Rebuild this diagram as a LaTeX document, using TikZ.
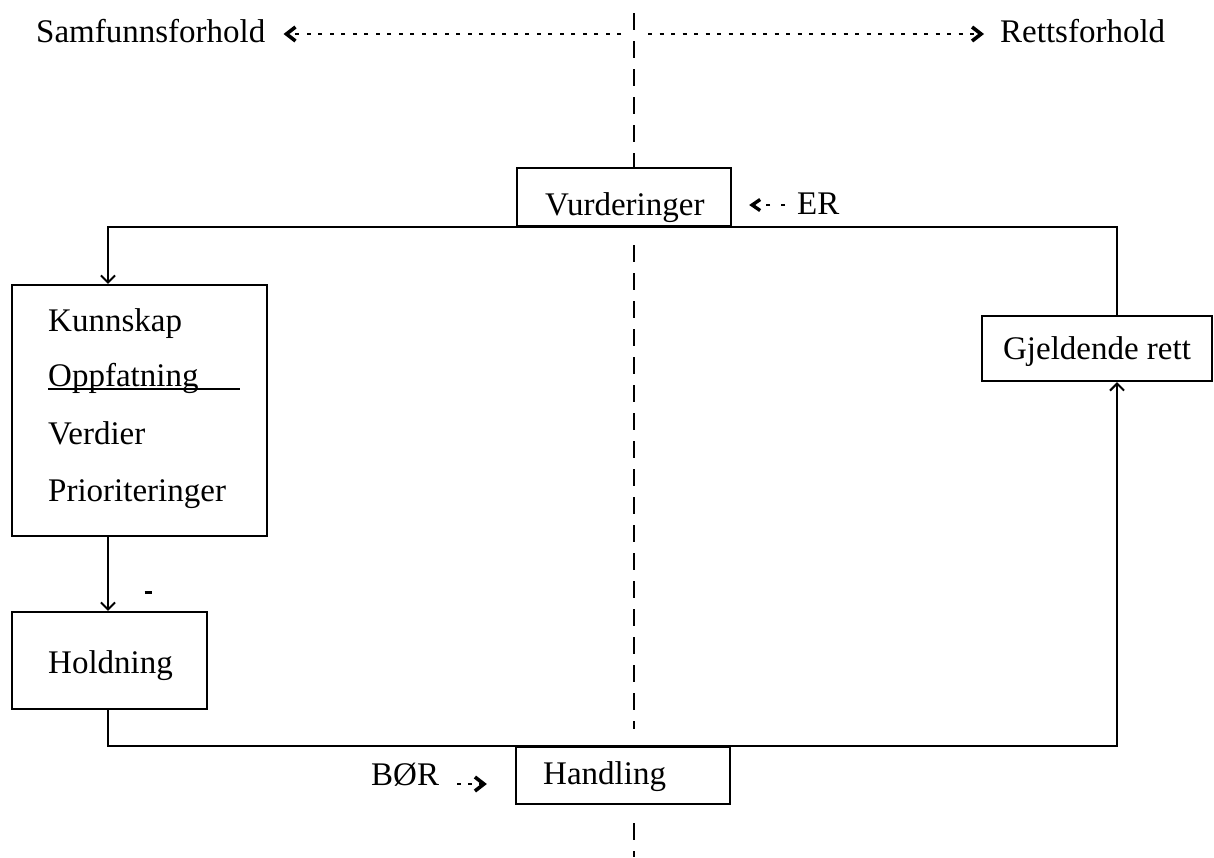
\documentclass[tikz,border=0pt]{standalone}
\usepackage{fontspec}
\setmainfont{Liberation Serif}
\usetikzlibrary{arrows.meta}

\begin{document}
\begin{tikzpicture}[x=1pt,y=-1pt,
  font=\fontsize{33}{40}\selectfont,
  box/.style={draw, line width=2.3pt, inner sep=0pt},
  lbl/.style={inner sep=0pt, anchor=base west},
  conn/.style={line width=2.3pt, -{Straight Barb[length=7pt,width=14pt,line width=2pt]}},
  chev/.style={-{Straight Barb[length=9pt,width=14pt,line width=3.6pt]}},
  dotline/.style={line width=2.6pt, dash pattern=on 4pt off 7.5pt, chev},
  midline/.style={line width=2.6pt, dash pattern=on 17pt off 11pt}]

\useasboundingbox (0,0) rectangle (1214,857);

% boxes
\node[box, minimum width=214pt, minimum height=58pt] (vb) at (624,197) {};
\node[box, minimum width=255pt, minimum height=251pt] (kb) at (139.5,410.5) {};
\node[box, minimum width=195pt, minimum height=97pt] (hb) at (109.5,660.5) {};
\node[box, minimum width=214pt, minimum height=57pt] (hd) at (623,775.5) {};
\node[box, minimum width=230pt, minimum height=65pt] (gb) at (1097,348.5) {};

% box texts
\node[lbl] (vt) at (545,215) {Vurderinger};
\node[lbl] (k1) at (48,331) {Kunnskap};
\node[lbl] (k2) at (48,386) {Oppfatning};
\node[lbl] (k3) at (48,444) {Verdier};
\node[lbl] (k4) at (48,501) {Prioriteringer};
\node[lbl] (ht) at (48,673) {Holdning};
\node[lbl] (hdt) at (543,784) {Handling};
\node[inner sep=0pt, anchor=base] (gt) at (1097,359) {Gjeldende rett};

% underline of the second entry
\coordinate (ulend) at (240,389);
\draw[line width=1.8pt] (k2.west |- ulend) -- (ulend);

% side labels
\node[lbl] (sam) at (36,42) {Samfunnsforhold};
\node[lbl] (ret) at (1000,42) {Rettsforhold};
\node[lbl] (er) at (797,214) {ER};
\node[lbl] (bor) at (371,785) {BØR};

% central divider
\coordinate (ctop) at (634,13);
\coordinate (cbot) at (634,857);
\draw[midline] (ctop) -- (ctop |- vb.north);
\draw[midline] (634,245) -- (634,729);
\draw[midline] (634,823) -- (cbot);

% dotted direction arrows
\coordinate (tl) at (621,34);
\coordinate (tr) at (648,34);
\draw[dotline] (tl) -- ([xshift=18pt]sam.east |- tl);
\draw[dotline] (tr) -- ([xshift=-16pt]ret.west |- tr);
\coordinate (erl) at (785,205);
\draw[dotline, dash pattern=on 4pt off 11pt,
  -{Straight Barb[length=8pt,width=11pt,line width=3.4pt]}]
  (erl) -- ([xshift=17pt]vb.east |- erl);
\coordinate (borr) at (457,784);
\draw[dotline, dash pattern=on 4pt off 7pt] (borr) -- ([xshift=-28pt]hd.west |- borr);

% main loop
\coordinate (lx) at (108,0);
\coordinate (rx) at (1117,0);
\draw[conn] (gb.north -| rx) |- (vb.south) -| (kb.north -| lx);
\draw[conn] (kb.south -| lx) -- (hb.north -| lx);
\draw[conn] (hb.south -| lx) |- (hd.north) -| (gb.south -| rx);

% small stray mark
\coordinate (mk) at (148,592);
\draw[line width=3pt] ([xshift=-3.5pt]mk) -- ([xshift=3.5pt]mk);
\end{tikzpicture}
\end{document}
